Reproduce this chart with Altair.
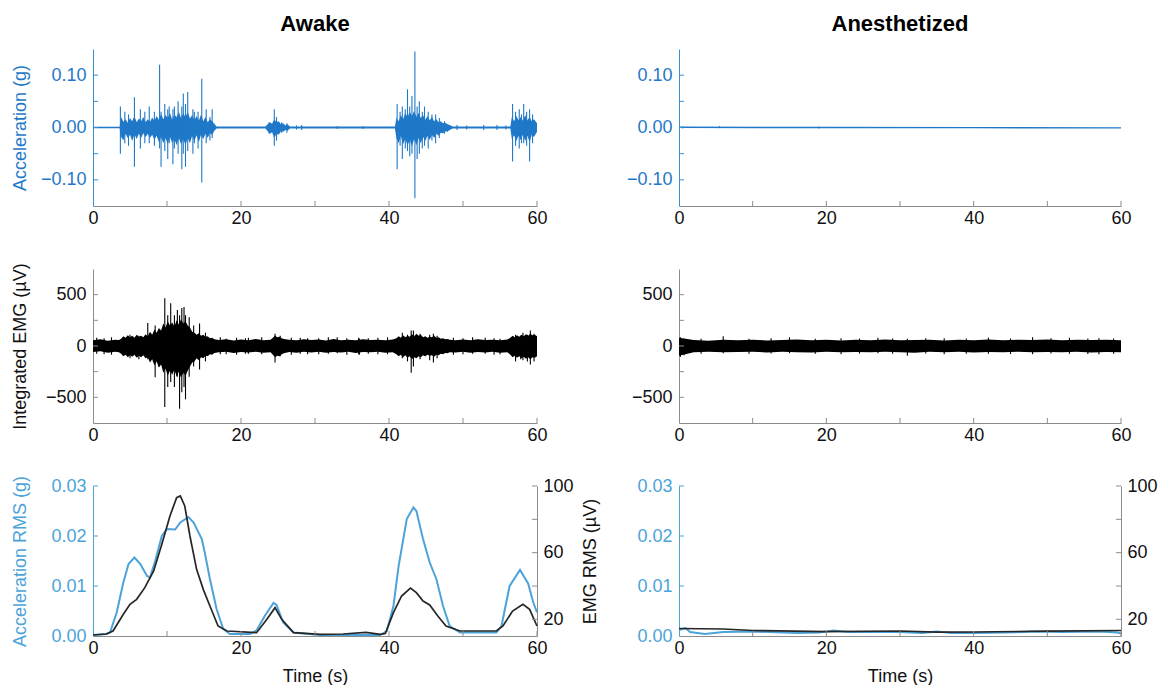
import altair as alt
import pandas as pd

FONT = "Liberation Sans"
BLUE_SIG = "#1f78c8"
BLUE_RMS = "#4ca3d9"
BLUE_AX = "#3a8fd0"
GRAY = "#8c8c8c"
EMG_RMS_COLOR = "#262626"

# ---------------- tick labels ----------------
X_LABELS = [0, 20, 40, 60]
X_TICKS = [10, 20, 30, 40, 50, 60]
ACC_LABELS = [-0.10, 0.00, 0.10]
ACC_TICKS = [-0.10, -0.05, 0.00, 0.05, 0.10]
EMG_LABELS = [-500, 0, 500]
EMG_TICKS = [-500, -250, 0, 250, 500]
ACCRMS_LABELS = [0.00, 0.01, 0.02, 0.03]
ACCRMS_TICKS = [0.01, 0.02, 0.03]
EMGRMS_LABELS = [20, 60, 100]
EMGRMS_TICKS = [20, 40, 60, 80, 100]

# ---------------- Awake: acceleration core envelope (by segment) ----------------
ACC_AW_Q_T = [0]
ACC_AW_Q_HI = [0.0015]
ACC_AW_Q_LO = [-0.0015]
ACC_AW_B1_T = [3.6, 3.8, 4.1, 4.4, 4.7, 5.0, 5.3, 5.6, 5.9, 6.2, 6.5, 6.8, 7.1, 7.4, 7.7, 8.0, 8.3, 8.6,
               8.9, 9.2, 9.5, 9.8, 10.1, 10.4, 10.7, 11.0, 11.3, 11.6, 11.9, 12.2, 12.5, 12.8, 13.1,
               13.4, 13.7, 14.0, 14.3, 14.6, 14.9, 15.2, 15.5, 15.8, 16.1, 16.4, 16.7]
ACC_AW_B1_HI = [0.0015, 0.02, 0.011, 0.016, 0.009, 0.018, 0.012, 0.022, 0.01, 0.017, 0.012, 0.02,
                0.01, 0.016, 0.011, 0.019, 0.013, 0.022, 0.015, 0.026, 0.016, 0.024, 0.018, 0.028,
                0.015, 0.025, 0.02, 0.03, 0.018, 0.027, 0.02, 0.03, 0.017, 0.024, 0.014, 0.022,
                0.013, 0.025, 0.012, 0.02, 0.01, 0.016, 0.012, 0.007, 0.0018]
ACC_AW_B1_LO = [-0.0015, -0.018, -0.025, -0.012, -0.02, -0.014, -0.026, -0.013, -0.022, -0.012,
                -0.02, -0.011, -0.018, -0.012, -0.02, -0.014, -0.024, -0.016, -0.028, -0.018, -0.03,
                -0.02, -0.032, -0.018, -0.03, -0.022, -0.034, -0.02, -0.032, -0.022, -0.034, -0.02,
                -0.03, -0.016, -0.026, -0.015, -0.028, -0.014, -0.022, -0.012, -0.02, -0.011,
                -0.014, -0.006, -0.0018]
ACC_AW_B2_T = [23.3, 23.6, 23.9, 24.2, 24.5, 24.8, 25.1, 25.4, 25.7, 26.0, 26.3, 26.6]
ACC_AW_B2_HI = [0.0018, 0.006, 0.01, 0.007, 0.016, 0.01, 0.012, 0.006, 0.008, 0.004, 0.006, 0.0018]
ACC_AW_B2_LO = [-0.0018, -0.007, -0.012, -0.009, -0.02, -0.012, -0.014, -0.007, -0.008, -0.005,
                -0.006, -0.0018]
ACC_AW_B3_T = [40.8, 41.0, 41.3, 41.6, 41.9, 42.2, 42.5, 42.8, 43.1, 43.4, 43.7, 44.0, 44.3, 44.6,
               44.9, 45.2, 45.5, 45.8, 46.1, 46.4, 46.7, 47.0, 47.3, 47.6, 47.9, 48.2, 48.6]
ACC_AW_B3_HI = [0.0018, 0.018, 0.012, 0.024, 0.016, 0.028, 0.02, 0.03, 0.022, 0.032, 0.02, 0.028,
                0.018, 0.024, 0.015, 0.022, 0.014, 0.02, 0.012, 0.016, 0.01, 0.012, 0.008, 0.009,
                0.006, 0.005, 0.002]
ACC_AW_B3_LO = [-0.0018, -0.02, -0.03, -0.016, -0.032, -0.022, -0.035, -0.024, -0.036, -0.022,
                -0.034, -0.02, -0.03, -0.018, -0.026, -0.016, -0.024, -0.014, -0.02, -0.012, -0.016,
                -0.01, -0.011, -0.007, -0.008, -0.005, -0.002]
ACC_AW_B4_T = [56.4, 56.6, 56.9, 57.2, 57.5, 57.8, 58.1, 58.4, 58.7, 59.0, 59.3, 59.6, 60.0]
ACC_AW_B4_HI = [0.002, 0.02, 0.012, 0.022, 0.014, 0.02, 0.013, 0.024, 0.014, 0.02, 0.012, 0.016, 0.008]
ACC_AW_B4_LO = [-0.002, -0.022, -0.015, -0.026, -0.016, -0.024, -0.014, -0.026, -0.016, -0.028,
                -0.014, -0.018, -0.008]

# Awake acceleration: individual spikes (time, top, bottom)
ACC_AW_SP_T = [3.7, 4.3, 4.8, 5.6, 6.4, 7.0, 7.6, 8.3, 9.0, 9.2, 9.7, 10.1, 10.3, 10.8, 11.0, 11.5,
               12.0, 12.2, 12.5, 12.8, 13.5, 13.7, 14.2, 14.7, 15.3, 15.8, 16.1,
               23.8, 24.5, 24.8, 25.5, 26.2, 27.5, 28.2, 33.0, 36.5,
               41.1, 41.5, 41.8, 42.2, 42.5, 42.8, 43.1, 43.5, 43.8, 44.1, 44.5, 44.8, 45.3, 45.8,
               46.3, 46.8, 47.5, 49.2, 50.5, 52.8, 54.6, 55.8,
               56.7, 57.1, 57.6, 57.9, 58.2, 58.6, 59.0, 59.4]
ACC_AW_SP_HI = [0.04, 0.03, 0.025, 0.058, 0.035, 0.03, 0.04, 0.03, 0.12, 0.03, 0.045, 0.035, 0.04,
                0.035, 0.04, 0.05, 0.04, 0.065, 0.045, 0.068, 0.035, 0.03, 0.03, 0.093, 0.035, 0.02,
                0.035,
                0.01, 0.035, 0.02, 0.01, 0.008, 0.004, 0.005, 0.003, 0.003,
                0.045, 0.03, 0.04, 0.035, 0.073, 0.04, 0.06, 0.145, 0.04, 0.05, 0.03, 0.04, 0.03,
                0.025, 0.025, 0.018, 0.012, 0.005, 0.004, 0.005, 0.005, 0.004,
                0.045, 0.03, 0.035, 0.025, 0.045, 0.03, 0.035, 0.025]
ACC_AW_SP_LO = [-0.05, -0.03, -0.035, -0.075, -0.04, -0.03, -0.03, -0.035, -0.04, -0.075, -0.045,
                -0.06, -0.03, -0.07, -0.04, -0.05, -0.08, -0.05, -0.075, -0.045, -0.05, -0.03, -0.04,
                -0.105, -0.03, -0.025, -0.02,
                -0.012, -0.035, -0.025, -0.01, -0.01, -0.004, -0.005, -0.003, -0.003,
                -0.08, -0.035, -0.06, -0.04, -0.045, -0.055, -0.05, -0.135, -0.06, -0.05, -0.04,
                -0.035, -0.04, -0.025, -0.03, -0.02, -0.012, -0.005, -0.004, -0.005, -0.005, -0.004,
                -0.065, -0.035, -0.04, -0.03, -0.03, -0.035, -0.065, -0.03]

# ---------------- Awake: integrated EMG core envelope (by segment) ----------------
EMG_AW_Q1_T = [0, 1, 2, 3, 3.5]
EMG_AW_Q1_HI = [55, 65, 52, 62, 58]
EMG_AW_Q1_LO = [-58, -50, -66, -55, -60]
EMG_AW_B1_T = [3.8, 4.1, 4.4, 4.7, 5.0, 5.3, 5.6, 5.9, 6.2, 6.5, 6.8, 7.1, 7.4, 7.7, 8.0, 8.3, 8.6,
               8.9, 9.2, 9.5, 9.8, 10.1, 10.4, 10.7, 11.0, 11.3, 11.6, 11.9, 12.2, 12.5, 12.8, 13.1,
               13.4, 13.7, 14.0, 14.3, 14.6, 14.9, 15.2, 15.5, 15.8, 16.1, 16.4]
EMG_AW_B1_HI = [70, 95, 80, 105, 85, 100, 80, 110, 90, 100, 85, 115, 95, 140, 110, 160, 130, 175, 150,
                220, 180, 240, 200, 230, 190, 250, 210, 260, 220, 240, 200, 180, 140, 130, 110, 125,
                100, 110, 90, 95, 75, 80, 65]
EMG_AW_B1_LO = [-75, -100, -85, -110, -90, -105, -85, -115, -95, -110, -90, -120, -110, -160, -130,
                -190, -150, -210, -180, -260, -220, -290, -240, -280, -230, -300, -250, -310, -260,
                -290, -240, -200, -160, -150, -120, -140, -110, -120, -95, -100, -80, -85, -68]
EMG_AW_Q2_T = [17, 18, 19, 20, 21, 22, 23, 24]
EMG_AW_Q2_HI = [58, 66, 54, 63, 57, 68, 55, 62]
EMG_AW_Q2_LO = [-62, -55, -68, -58, -64, -56, -66, -60]
EMG_AW_B2_T = [24.3, 24.6, 24.9, 25.2, 25.5, 25.8]
EMG_AW_B2_HI = [80, 100, 85, 90, 75, 68]
EMG_AW_B2_LO = [-85, -110, -95, -100, -80, -70]
EMG_AW_Q3_T = [26.5, 27.5, 28.5, 29.5, 30.5, 31.5, 32.5, 33.5, 34.5, 35.5, 36.5, 37.5, 38.5, 39.5, 40.5]
EMG_AW_Q3_HI = [60, 55, 66, 58, 63, 54, 67, 57, 62, 55, 65, 58, 62, 56, 64]
EMG_AW_Q3_LO = [-58, -65, -56, -64, -57, -66, -59, -63, -55, -67, -58, -62, -57, -65, -60]
EMG_AW_B3_T = [41.0, 41.3, 41.6, 41.9, 42.2, 42.5, 42.8, 43.1, 43.4, 43.7, 44.0, 44.3, 44.6, 44.9,
               45.2, 45.5, 45.8, 46.1, 46.4, 46.7, 47.0, 47.3, 47.6, 47.9, 48.2]
EMG_AW_B3_HI = [75, 95, 80, 105, 85, 100, 90, 115, 95, 120, 100, 110, 85, 95, 80, 90, 85, 100, 80, 85,
                70, 75, 65, 68, 60]
EMG_AW_B3_LO = [-80, -100, -85, -110, -90, -115, -100, -130, -110, -120, -100, -110, -90, -100, -85,
                -95, -90, -105, -85, -90, -75, -80, -68, -70, -62]
EMG_AW_Q4_T = [49, 50, 51, 52, 53, 54, 55, 56]
EMG_AW_Q4_HI = [57, 64, 55, 66, 58, 62, 56, 63]
EMG_AW_Q4_LO = [-63, -56, -66, -58, -64, -57, -65, -60]
EMG_AW_B4_T = [56.4, 56.7, 57.0, 57.3, 57.6, 57.9, 58.2, 58.5, 58.8, 59.1, 59.4, 59.7, 60.0]
EMG_AW_B4_HI = [80, 100, 85, 105, 90, 110, 95, 115, 100, 120, 105, 110, 95]
EMG_AW_B4_LO = [-85, -110, -95, -115, -100, -120, -105, -125, -110, -130, -110, -115, -100]

EMG_AW_SP_T = [0.5, 1.5, 2.5, 5.0, 6.2, 7.4, 8.4, 8.9, 9.7, 10.1, 10.5, 11.0, 11.4, 11.7, 12.0, 12.3,
               12.5, 13.0, 13.6, 14.4, 15.2, 17.2, 18.0, 19.4, 20.6, 21.0, 22.8, 24.6, 25.3, 26.8,
               28.0, 29.0, 30.5, 31.8, 33.0, 34.3, 35.9, 36.0, 37.2, 38.5, 39.8,
               41.8, 42.5, 43.0, 43.3, 44.2, 45.5, 46.0, 46.5, 48.7, 50.0, 51.3, 53.0, 54.2, 55.0,
               57.1, 57.8, 58.1, 58.7, 59.1, 59.6]
EMG_AW_SP_HI = [80, 75, 85, 110, 100, 224, 200, 150, 465, 300, 417, 300, 350, 300, 370, 380,
                300, 280, 200, 220, 130, 85, 70, 80, 75, 80, 85, 120, 100, 80,
                80, 75, 75, 85, 85, 75, 80, 70, 75, 80, 85,
                130, 110, 150, 150, 120, 110, 120, 100, 80, 75, 85, 80, 75, 70,
                110, 100, 130, 110, 150, 120]
EMG_AW_SP_LO = [-75, -80, -85, -120, -130, -130, -304, -200, -593, -400, -350, -400, -300, -610,
                -450, -400, -520, -300, -200, -230, -150, -80, -80, -85, -75, -75, -80, -160, -100,
                -85, -75, -80, -80, -75, -70, -85, -80, -85, -75, -80, -80,
                -120, -150, -260, -200, -130, -140, -160, -120, -85, -80, -75, -75, -85, -80,
                -150, -130, -140, -150, -180, -150]

# ---------------- Anesthetized: acceleration ----------------
ACC_AN_ENV_T = [0, 20, 40, 60]
ACC_AN_ENV_HI = [0.0018, 0.0015, 0.0011, 0.0005]
ACC_AN_ENV_LO = [-0.0011, -0.0014, -0.0016, -0.002]
ACC_AN_SP_T = [0.5, 5.5, 19.0]
ACC_AN_SP_HI = [0.0022, 0.0028, 0.002]
ACC_AN_SP_LO = [-0.0017, -0.0012, -0.0017]

# ---------------- Anesthetized: integrated EMG ----------------
EMG_AN_ENV_T = [0, 2, 4, 6, 8, 10, 12, 14, 16, 18, 20, 22, 24, 26, 28, 30, 32, 34, 36, 38, 40, 42, 44,
                46, 48, 50, 52, 54, 56, 58, 60]
EMG_AN_ENV_HI = [80, 58, 52, 60, 55, 62, 54, 58, 63, 55, 60, 53, 61, 57, 64, 56, 59, 62, 54, 60, 57,
                 63, 55, 61, 58, 64, 56, 62, 58, 60, 57]
EMG_AN_ENV_LO = [-95, -60, -56, -62, -58, -55, -63, -57, -60, -64, -56, -61, -58, -62, -55, -60, -66,
                 -57, -61, -55, -63, -58, -60, -56, -62, -58, -61, -57, -63, -59, -60]
EMG_AN_SP_T = [0.2, 0.7, 3.0, 6.0, 9.5, 12.5, 15.0, 18.5, 22.0, 24.5, 27.0, 29.0, 31.0, 33.5, 36.0,
               39.0, 42.0, 45.0, 48.0, 50.5, 53.0, 55.5, 57.0, 59.0]
EMG_AN_SP_HI = [85, 70, 70, 95, 70, 75, 85, 70, 75, 72, 80, 74, 70, 76, 75, 72, 80, 74, 85, 76, 80,
                72, 75, 74]
EMG_AN_SP_LO = [-105, -90, -75, -70, -75, -72, -70, -76, -80, -74, -70, -75, -95, -72, -80, -76,
                -75, -78, -80, -74, -75, -78, -80, -76]

# ---------------- Awake: RMS ----------------
ACCRMS_AW_T = [0, 1.8, 2.3, 3.2, 4.1, 4.8, 5.6, 6.4, 7.3, 7.7, 8.4, 9.3, 10.0, 11.1, 11.8, 12.9,
               13.6, 14.7, 15.1, 15.8, 16.7, 17.6, 18.5, 21.2, 22.1, 23.2, 24.4, 24.8, 25.7, 27.1,
               30.7, 38.8, 39.7, 40.6, 41.3, 42.4, 43.3, 43.7, 44.6, 45.5, 46.4, 47.3, 48.2, 49.6,
               54.5, 55.2, 56.3, 57.7, 58.8, 59.5, 60.0]
ACCRMS_AW_V = [0.0002, 0.0004, 0.0007, 0.0047, 0.0107, 0.0144, 0.0157, 0.0144, 0.012, 0.0117, 0.015,
               0.020, 0.0214, 0.0213, 0.0227, 0.0238, 0.0227, 0.0194, 0.0167, 0.0114, 0.0054, 0.0014,
               0.0004, 0.0004, 0.0011, 0.004, 0.0066, 0.0062, 0.0027, 0.0007, 0.0002, 0.0002, 0.001,
               0.006, 0.014, 0.0234, 0.0257, 0.025, 0.0194, 0.0147, 0.0114, 0.006, 0.002, 0.0007,
               0.0007, 0.002, 0.01, 0.0132, 0.0105, 0.0067, 0.0047]
EMGRMS_AW_T = [0, 1.8, 2.7, 4.1, 5.0, 5.9, 7.0, 8.2, 9.3, 10.4, 11.3, 11.8, 12.4, 13.1, 14.0, 14.9,
               15.8, 16.9, 18.1, 22.1, 23.5, 24.6, 25.5, 27.1, 30.7, 33.8, 36.9, 38.8, 39.5, 40.6,
               41.7, 42.9, 43.7, 44.6, 45.5, 46.6, 47.7, 49.6, 54.5, 55.4, 56.7, 58.1, 59.0, 60.0]
EMGRMS_AW_V = [10.6, 11.2, 13, 23, 29, 32, 39, 49, 65, 82, 93, 94, 88, 70, 50, 38, 28, 16, 13, 12,
               20, 27, 20, 12, 11, 11.2, 12.2, 11, 11.5, 24, 34, 38.8, 36, 31, 28.6, 22, 16, 13, 13,
               16, 25, 29, 26, 16]

# ---------------- Anesthetized: RMS ----------------
ACCRMS_AN_T = [0, 0.9, 1.5, 3.5, 6, 10, 16, 19, 21, 23, 30, 33, 35, 37, 40, 47, 48, 52, 57, 59.5, 60]
ACCRMS_AN_V = [0.0012, 0.0016, 0.0008, 0.0004, 0.0008, 0.0009, 0.0006, 0.0007, 0.0011, 0.0008,
               0.0008, 0.0006, 0.0009, 0.0006, 0.0006, 0.0008, 0.0009, 0.0008, 0.0009, 0.0007, 0.0005]
EMGRMS_AN_T = [0, 6, 10, 20, 30, 35, 40, 50, 60]
EMGRMS_AN_V = [14.5, 14.2, 13.3, 12.6, 13.0, 12.3, 12.4, 12.9, 13.3]

# assemble awake envelopes from their segments
ACC_AW_ENV_T = ACC_AW_Q_T + ACC_AW_B1_T + ACC_AW_B2_T + ACC_AW_B3_T + ACC_AW_B4_T
ACC_AW_ENV_HI = ACC_AW_Q_HI + ACC_AW_B1_HI + ACC_AW_B2_HI + ACC_AW_B3_HI + ACC_AW_B4_HI
ACC_AW_ENV_LO = ACC_AW_Q_LO + ACC_AW_B1_LO + ACC_AW_B2_LO + ACC_AW_B3_LO + ACC_AW_B4_LO
EMG_AW_ENV_T = (EMG_AW_Q1_T + EMG_AW_B1_T + EMG_AW_Q2_T + EMG_AW_B2_T + EMG_AW_Q3_T + EMG_AW_B3_T
                + EMG_AW_Q4_T + EMG_AW_B4_T)
EMG_AW_ENV_HI = (EMG_AW_Q1_HI + EMG_AW_B1_HI + EMG_AW_Q2_HI + EMG_AW_B2_HI + EMG_AW_Q3_HI
                 + EMG_AW_B3_HI + EMG_AW_Q4_HI + EMG_AW_B4_HI)
EMG_AW_ENV_LO = (EMG_AW_Q1_LO + EMG_AW_B1_LO + EMG_AW_Q2_LO + EMG_AW_B2_LO + EMG_AW_Q3_LO
                 + EMG_AW_B3_LO + EMG_AW_Q4_LO + EMG_AW_B4_LO)

LEFT_W, RIGHT_W = 444, 442
H_TOP, H_MID, H_BOT = 157, 154, 150

XS = alt.Scale(domain=[0, 60], nice=False, zero=False)


def x_axis(title=None):
    return alt.Axis(values=X_LABELS, ticks=False, title=title, domainColor=GRAY, labelPadding=3,
                    labelFlush=False, labelColor="#111", titleColor="#111", titlePadding=10)


def x_tick_layer(height):
    return alt.Chart(pd.DataFrame({"t": X_TICKS})).mark_rule(color=GRAY, strokeWidth=1).encode(
        x=alt.X("t:Q", scale=XS), y=alt.value(height), y2=alt.value(height - 5))


def signal_panel(env_t, env_hi, env_lo, sp_t, sp_hi, sp_lo, color, ydom, ylabels, yticks, yfmt,
                 ytitle, width, height, ax_color, lab_color, extent, title=None):
    ys = alt.Scale(domain=ydom, nice=False, zero=False)
    yaxis_kw = dict(values=ylabels, format=yfmt, ticks=False, domainColor=ax_color,
                    labelColor=lab_color, titleColor=lab_color, labelPadding=7,
                    minExtent=extent, maxExtent=extent, titlePadding=6)
    if ytitle:
        yaxis = alt.Axis(title=ytitle, **yaxis_kw)
    else:
        yaxis = alt.Axis(title=None, **yaxis_kw)
    env = pd.DataFrame({"t": env_t, "hi": env_hi, "lo": env_lo})
    spk = pd.DataFrame({"t": sp_t, "hi": sp_hi, "lo": sp_lo})
    area = alt.Chart(env).mark_area(color=color, opacity=1).encode(
        x=alt.X("t:Q", scale=XS, axis=x_axis()),
        y=alt.Y("hi:Q", scale=ys, axis=yaxis), y2="lo:Q")
    rules = alt.Chart(spk).mark_rule(color=color, strokeWidth=1.1).encode(
        x=alt.X("t:Q", scale=XS), y=alt.Y("hi:Q", scale=ys), y2="lo:Q")
    yt = alt.Chart(pd.DataFrame({"hi": yticks})).mark_rule(color=ax_color, strokeWidth=1).encode(
        y=alt.Y("hi:Q", scale=ys), x=alt.value(0), x2=alt.value(5))
    ch = alt.layer(area, rules, x_tick_layer(height), yt).properties(width=width, height=height)
    if title:
        ch = ch.properties(title=alt.TitleParams(title, anchor="middle", frame="group", fontSize=22,
                                                 fontWeight="bold", font=FONT, offset=13, color="#000"))
    return ch


def rms_panel(acc_t, acc_v, emg_t, emg_v, width, height, left_title, right_title, extent):
    ys1 = alt.Scale(domain=[0, 0.03], nice=False, zero=False)
    ys2 = alt.Scale(domain=[10, 100], nice=False, zero=False)
    a1 = dict(values=ACCRMS_LABELS, format=".2f", ticks=False, domainColor=BLUE_RMS, labelColor=BLUE_RMS,
              titleColor=BLUE_RMS, labelPadding=7, minExtent=extent, maxExtent=extent, titlePadding=6,
              orient="left")
    ax1 = alt.Axis(title=left_title, **a1) if left_title else alt.Axis(title=None, **a1)
    a2 = dict(values=EMGRMS_LABELS, format="d", ticks=False, domainColor=GRAY, labelColor="#111",
              titleColor="#111", labelPadding=6, titlePadding=8, orient="right", titleAngle=270,
              titleBaseline="top")
    ax2 = alt.Axis(title=right_title, **a2) if right_title else alt.Axis(title=None, **a2)
    acc = pd.DataFrame({"t": acc_t, "v": acc_v})
    emg = pd.DataFrame({"t": emg_t, "v": emg_v})
    l1 = alt.Chart(acc).mark_line(color=BLUE_RMS, strokeWidth=2).encode(
        x=alt.X("t:Q", scale=XS, axis=x_axis("Time (s)")), y=alt.Y("v:Q", scale=ys1, axis=ax1))
    l2 = alt.Chart(emg).mark_line(color=EMG_RMS_COLOR, strokeWidth=1.7).encode(
        x=alt.X("t:Q", scale=XS), y=alt.Y("v:Q", scale=ys2, axis=ax2))
    yt1 = alt.Chart(pd.DataFrame({"w": ACCRMS_TICKS})).mark_rule(color=BLUE_RMS, strokeWidth=1).encode(
        y=alt.Y("w:Q", scale=ys1, axis=None), x=alt.value(0), x2=alt.value(5))
    yt2 = alt.Chart(pd.DataFrame({"w": EMGRMS_TICKS})).mark_rule(color=GRAY, strokeWidth=1).encode(
        y=alt.Y("w:Q", scale=ys2, axis=None), x=alt.value(width), x2=alt.value(width - 5))
    return alt.layer(l1, l2, x_tick_layer(height), yt1, yt2).resolve_scale(y="independent").properties(
        width=width, height=height)


acc_aw = signal_panel(ACC_AW_ENV_T, ACC_AW_ENV_HI, ACC_AW_ENV_LO, ACC_AW_SP_T, ACC_AW_SP_HI, ACC_AW_SP_LO,
                      BLUE_SIG, [-0.15, 0.15], ACC_LABELS, ACC_TICKS, ".2f", "Acceleration (g)",
                      LEFT_W, H_TOP, BLUE_AX, BLUE_SIG, 58, title="Awake")
emg_aw = signal_panel(EMG_AW_ENV_T, EMG_AW_ENV_HI, EMG_AW_ENV_LO, EMG_AW_SP_T, EMG_AW_SP_HI, EMG_AW_SP_LO,
                      "#000", [-750, 750], EMG_LABELS, EMG_TICKS, "d", "Integrated EMG (µV)",
                      LEFT_W, H_MID, GRAY, "#111", 58)
rms_aw = rms_panel(ACCRMS_AW_T, ACCRMS_AW_V, EMGRMS_AW_T, EMGRMS_AW_V, LEFT_W, H_BOT,
                   "Acceleration RMS (g)", "EMG RMS (µV)", 58)

acc_an = signal_panel(ACC_AN_ENV_T, ACC_AN_ENV_HI, ACC_AN_ENV_LO, ACC_AN_SP_T, ACC_AN_SP_HI, ACC_AN_SP_LO,
                      BLUE_SIG, [-0.15, 0.15], ACC_LABELS, ACC_TICKS, ".2f", None,
                      RIGHT_W, H_TOP, BLUE_AX, BLUE_SIG, 56, title="Anesthetized")
emg_an = signal_panel(EMG_AN_ENV_T, EMG_AN_ENV_HI, EMG_AN_ENV_LO, EMG_AN_SP_T, EMG_AN_SP_HI, EMG_AN_SP_LO,
                      "#000", [-750, 750], EMG_LABELS, EMG_TICKS, "d", None,
                      RIGHT_W, H_MID, GRAY, "#111", 56)
rms_an = rms_panel(ACCRMS_AN_T, ACCRMS_AN_V, EMGRMS_AN_T, EMGRMS_AN_V, RIGHT_W, H_BOT, None, None, 56)

left_col = alt.vconcat(acc_aw, emg_aw, rms_aw, spacing=63, bounds="flush")
right_col = alt.vconcat(acc_an, emg_an, rms_an, spacing=63, bounds="flush")

chart = alt.hconcat(left_col, right_col, spacing=23).properties(
    padding={"left": 3, "top": 5, "right": 0, "bottom": 0}
).configure_view(stroke=None).configure_axis(
    grid=False, labelFont=FONT, titleFont=FONT, labelFontSize=18, titleFontSize=18,
    titleFontWeight="normal", domainWidth=1
).configure_title(font=FONT)

chart.save("out.html", embed_options={"renderer": "svg", "actions": False})
